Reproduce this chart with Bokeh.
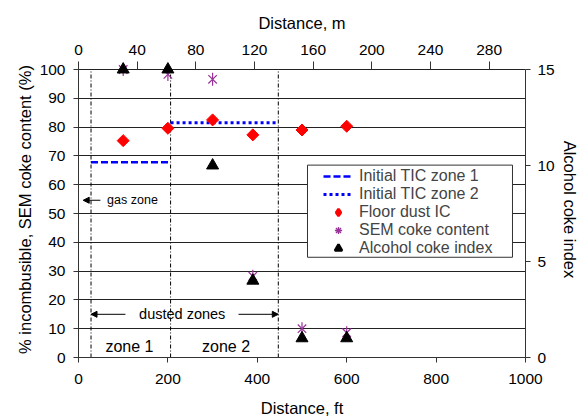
from bokeh.plotting import figure
from bokeh.models import (Range1d, LinearAxis, Legend, LegendItem, Arrow, NormalHead,
                          Label, FixedTicker, BoxAnnotation)
from bokeh.embed import file_html
from bokeh.resources import INLINE
import numpy as np

# ---- data ----
dist_ft = [100, 200, 300, 390, 500, 600]
floor_dust_ic = [75.3, 79.6, 82.5, 77.3, 79.0, 80.3]
sem_coke = [100.0, 98.3, 96.6, 28.2, 10.0, 8.6]
alcohol_coke_index = [15, 15, 10, 4, 1, 1]
zone_bounds_ft = [28, 206, 447]
tic_zone1 = 67.8
tic_zone2 = 81.5
left_ticks = list(range(0, 101, 10))
bottom_ticks = [0, 200, 400, 600, 800, 1000]
top_ticks_m = [0, 40, 80, 120, 160, 200, 240, 280]
right_ticks = [0, 5, 10, 15]

FONT = "Liberation Sans"
TICK_FS = "15.5px"
LAB_FS = "16.5px"
AX = "#333333"

# frame extends a little above 100 % so that markers at the top are not clipped
Y_TOP = 100 * 296 / 288
IDX_TOP = 15 * 296 / 288

p = figure(width=586, height=420, frame_width=447, frame_height=296,
           min_border_left=78, min_border_right=61, min_border_top=61, min_border_bottom=63,
           x_range=Range1d(0, 1000), y_range=Range1d(0, Y_TOP),
           output_backend="svg", toolbar_location=None)
p.outline_line_color = None
p.background_fill_color = "white"
p.border_fill_color = "white"

p.extra_x_ranges = {"m": Range1d(0, 304.8)}
p.extra_y_ranges = {"idx": Range1d(0, IDX_TOP)}

p.xgrid.visible = False
p.ygrid.ticker = FixedTicker(ticks=left_ticks)
p.ygrid.grid_line_color = "#222222"
p.ygrid.grid_line_width = 1


def style(ax, fs=TICK_FS):
    ax.axis_line_color = AX
    ax.major_tick_line_color = AX
    ax.minor_tick_line_color = None
    ax.major_tick_out = 5
    ax.major_tick_in = 0
    ax.major_label_text_font = FONT
    ax.major_label_text_font_size = fs
    ax.major_label_text_color = "black"
    ax.axis_label_text_font = FONT
    ax.axis_label_text_font_size = LAB_FS
    ax.axis_label_text_font_style = "normal"
    ax.axis_label_text_color = "black"


xb = p.xaxis[0]
style(xb)
xb.ticker = FixedTicker(ticks=bottom_ticks)
xb.axis_label = "Distance, ft"
xb.major_label_standoff = 11
xb.axis_label_standoff = 12

yl = p.yaxis[0]
style(yl)
yl.ticker = FixedTicker(ticks=left_ticks)
yl.bounds = (0, 100)
yl.axis_label = "% incombusible, SEM coke content (%)"
yl.major_label_standoff = 8
yl.axis_label_standoff = 3

xt = LinearAxis(x_range_name="m", ticker=FixedTicker(ticks=top_ticks_m))
style(xt)
xt.axis_line_color = None
xt.major_tick_in = 8
xt.major_tick_out = 0
xt.axis_label = "Distance, m"
xt.major_label_standoff = 7
xt.axis_label_standoff = 10
p.add_layout(xt, "above")

yr = LinearAxis(y_range_name="idx", ticker=FixedTicker(ticks=right_ticks))
style(yr)
yr.bounds = (0, 15)
yr.axis_label = "Alcohol coke index"
yr.major_label_standoff = 7
yr.axis_label_standoff = 3
p.add_layout(yr, "right")

# zone boundary lines
p.segment(x0=zone_bounds_ft, y0=[0] * 3, x1=zone_bounds_ft, y1=[100] * 3,
          line_color="black", line_width=1, line_dash="4 2 1 2")

# initial TIC lines
r_tic1 = p.line([zone_bounds_ft[0], zone_bounds_ft[1]], [tic_zone1, tic_zone1],
                line_color="#0000FF", line_width=2.5, line_dash="7 3")
r_tic2 = p.line([zone_bounds_ft[1], zone_bounds_ft[2]], [tic_zone2, tic_zone2],
                line_color="#0000FF", line_width=3, line_dash="3 3")

PURPLE = "#993399"
p.scatter(dist_ft, floor_dust_ic, marker="square", angle=np.pi / 4, size=8.5,
          fill_color="#FF0000", line_color="#FF0000")
p.scatter(dist_ft, sem_coke, marker="x", size=12, line_color=PURPLE, line_width=1.2)
p.scatter(dist_ft, sem_coke, marker="dash", angle=np.pi / 2, size=13,
          line_color=PURPLE, line_width=1.2)
p.scatter(dist_ft, alcohol_coke_index, marker="triangle", size=12,
          y_range_name="idx", fill_color="black", line_color="black")

# legend-only glyph renderers (a single NaN point, never drawn in the plot)
nan = [float("nan")]
r_leg_ic = p.scatter(nan, nan, marker="diamond", size=12, fill_color="#FF0000",
                     line_color="#FF0000", line_width=2.5)
r_leg_sem = p.scatter(nan, nan, marker="asterisk", size=12, line_color=PURPLE, line_width=1.3)
r_leg_aci = p.scatter(nan, nan, marker="triangle", size=12, fill_color="black",
                      line_color="black", line_width=2.5)

# annotations
def arrow(x0, y0, x1, y1):
    p.add_layout(Arrow(end=NormalHead(size=6, fill_color="black", line_color="black"),
                       x_start=x0, y_start=y0, x_end=x1, y_end=y1,
                       line_color="black", line_width=1))

arrow(49, 54.6, 10.5, 54.6)
arrow(105, 15, zone_bounds_ft[0], 15)
arrow(358, 15, zone_bounds_ft[2], 15)

def label(x, y, t, fs, align="center"):
    p.add_layout(Label(x=x, y=y, text=t, text_font=FONT, text_font_size=fs,
                       text_align=align, text_baseline="middle", text_color="black"))

label(64, 54.6, "gas zone", "12.5px", "left")
label(232, 15, "dusted zones", "14.5px")
label(114, 3.8, "zone 1", "16px")
label(330, 3.8, "zone 2", "16px")

# legend frame
p.add_layout(BoxAnnotation(left=512.3, right=970.9, bottom=34.8, top=66.8,
                           fill_color="white", fill_alpha=1,
                           line_color="#333333", line_width=1, line_alpha=1))

legend = Legend(items=[
    LegendItem(label="Initial TIC zone 1", renderers=[r_tic1]),
    LegendItem(label="Initial TIC zone 2", renderers=[r_tic2]),
    LegendItem(label="Floor dust IC", renderers=[r_leg_ic]),
    LegendItem(label="SEM coke content", renderers=[r_leg_sem]),
    LegendItem(label="Alcohol coke index", renderers=[r_leg_aci]),
], location=(245, 100))
legend.label_text_font = FONT
legend.label_text_font_size = "16px"
legend.label_height = 18
legend.glyph_height = 18
legend.glyph_width = 30
legend.label_standoff = 6
legend.spacing = 0
legend.padding = 0
legend.margin = 0
legend.border_line_color = None
legend.background_fill_alpha = 0
p.add_layout(legend, "center")

open("out.html", "w").write(file_html(p, INLINE))
